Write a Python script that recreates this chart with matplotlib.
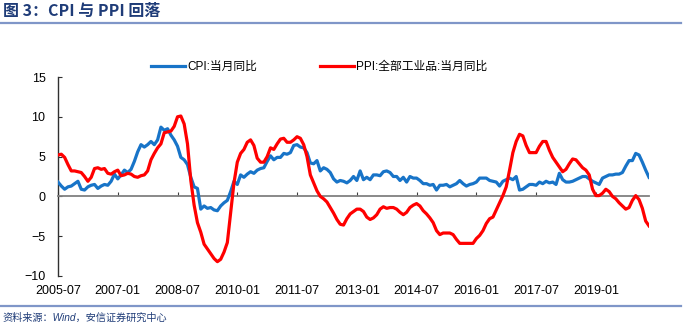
import matplotlib
matplotlib.use("Agg")
import matplotlib.pyplot as plt
import numpy as np

# Monthly data, 2005-07 .. 2020-05 (year-on-year, %)
start_year, start_month = 2005, 7

cpi = [
    1.8, 1.3, 0.9, 1.2, 1.3, 1.6,                                # 2005 H2
    1.9, 0.9, 0.8, 1.2, 1.4, 1.5, 1.0, 1.3, 1.5, 1.4, 1.9, 2.8,  # 2006
    2.2, 2.7, 3.3, 3.0, 3.4, 4.4, 5.6, 6.5, 6.2, 6.5, 6.9, 6.5,  # 2007
    7.1, 8.7, 8.3, 8.5, 7.7, 7.1, 6.3, 4.9, 4.6, 4.0, 2.4, 1.2,  # 2008
    1.0, -1.6, -1.2, -1.5, -1.4, -1.7, -1.8, -1.2, -0.8, -0.5, 0.6, 1.9,  # 2009
    1.5, 2.7, 2.4, 2.8, 3.1, 2.9, 3.3, 3.5, 3.6, 4.4, 5.1, 4.6,  # 2010
    4.9, 4.9, 5.4, 5.3, 5.5, 6.4, 6.5, 6.2, 6.1, 5.5, 4.2, 4.1,  # 2011
    4.5, 3.2, 3.6, 3.4, 3.0, 2.2, 1.8, 2.0, 1.9, 1.7, 2.0, 2.5,  # 2012
    2.0, 3.2, 2.1, 2.4, 2.1, 2.7, 2.7, 2.6, 3.1, 3.2, 3.0, 2.5,  # 2013
    2.5, 2.0, 2.4, 1.8, 2.5, 2.3, 2.3, 2.0, 1.6, 1.6, 1.4, 1.5,  # 2014
    0.8, 1.4, 1.4, 1.5, 1.2, 1.4, 1.6, 2.0, 1.6, 1.3, 1.5, 1.6,  # 2015
    1.8, 2.3, 2.3, 2.3, 2.0, 1.9, 1.8, 1.3, 1.9, 2.1, 2.3, 2.1,  # 2016
    2.5, 0.8, 0.9, 1.2, 1.5, 1.5, 1.4, 1.8, 1.6, 1.9, 1.7, 1.8,  # 2017
    1.5, 2.9, 2.1, 1.8, 1.8, 1.9, 2.1, 2.3, 2.5, 2.5, 2.2, 1.9,  # 2018
    1.7, 1.5, 2.3, 2.5, 2.7, 2.7, 2.8, 2.8, 3.0, 3.8, 4.5, 4.5,  # 2019
    5.4, 5.2, 4.3, 3.3, 2.4,                                     # 2020
]

ppi = [
    5.2, 5.3, 4.9, 4.0, 3.2, 3.2,
    3.1, 3.0, 2.5, 1.9, 2.4, 3.5, 3.6, 3.4, 3.5, 2.9, 2.8, 3.1,
    3.3, 2.6, 2.7, 2.9, 2.8, 2.5, 2.4, 2.6, 2.7, 3.2, 4.6, 5.4,
    6.1, 6.6, 8.0, 8.1, 8.2, 8.8, 10.0, 10.1, 9.1, 6.6, 2.0, -1.1,
    -3.3, -4.5, -6.0, -6.6, -7.2, -7.8, -8.2, -7.9, -7.0, -5.8, -2.1, 1.7,
    4.3, 5.4, 5.9, 6.8, 7.1, 6.4, 4.8, 4.3, 4.3, 5.0, 6.1, 5.9,
    6.6, 7.2, 7.3, 6.8, 6.8, 7.1, 7.5, 7.3, 6.5, 5.0, 2.7, 1.7,
    0.7, 0.0, -0.3, -0.7, -1.4, -2.1, -2.9, -3.5, -3.6, -2.8, -2.2, -1.9,
    -1.6, -1.6, -1.9, -2.6, -2.9, -2.7, -2.3, -1.6, -1.3, -1.5, -1.4, -1.4,
    -1.6, -2.0, -2.3, -2.0, -1.4, -1.1, -0.9, -1.2, -1.8, -2.2, -2.7, -3.3,
    -4.3, -4.8, -4.6, -4.6, -4.6, -4.8, -5.4, -5.9, -5.9, -5.9, -5.9, -5.9,
    -5.3, -4.9, -4.3, -3.4, -2.8, -2.6, -1.7, -0.8, 0.1, 1.2, 3.3, 5.5,
    6.9, 7.8, 7.6, 6.4, 5.5, 5.5, 5.5, 6.3, 6.9, 6.9, 5.8, 4.9,
    4.3, 3.7, 3.1, 3.4, 4.1, 4.7, 4.6, 4.1, 3.6, 3.3, 2.7, 0.9,
    0.1, 0.1, 0.4, 0.9, 0.6, 0.0, -0.3, -0.8, -1.2, -1.6, -1.4, -0.5,
    0.1, -0.4, -1.5, -3.1, -3.7,
]

tick_labels = ["2005-07", "2007-01", "2008-07", "2010-01", "2011-07",
               "2013-01", "2014-07", "2016-01", "2017-07", "2019-01"]
y_ticks = [-10, -5, 0, 5, 10, 15]

BLUE = "#1874c8"
RED = "#ff0000"
NAVY = "#1f3c78"
RULE = "#7f96c8"
latin_cjk = ["Liberation Sans", "Noto Sans CJK SC", "DejaVu Sans"]

plt.rcParams["font.family"] = latin_cjk

months = np.arange(len(cpi))
tick_pos = [tick_labels.index(t) * 18 for t in tick_labels]

fig = plt.figure(figsize=(6.84, 3.27), dpi=100)
ax = fig.add_axes([58 / 684, 1 - 276 / 327, (649 - 58) / 684, (276 - 77) / 327])

ax.plot(months, cpi, color=BLUE, lw=2.3, label="CPI:当月同比", zorder=3)
ax.plot(months, ppi, color=RED, lw=2.3, label="PPI:全部工业品:当月同比", zorder=3)

ax.set_xlim(0, len(cpi) - 1)
ax.set_ylim(-10, 15)
ax.set_yticks(y_ticks)
ax.set_xticks(tick_pos)
ax.set_xticklabels(tick_labels)

for s in ("top", "right"):
    ax.spines[s].set_visible(False)
ax.spines["bottom"].set_position(("data", 0))
ax.spines["bottom"].set_color("#808080")
ax.spines["bottom"].set_linewidth(1.3)
ax.spines["left"].set_color("#303030")
ax.spines["left"].set_linewidth(1.0)

ax.tick_params(axis="y", direction="in", length=3, width=0.8, labelsize=9,
               pad=9, colors="#303030", labelcolor="black")
ax.tick_params(axis="x", direction="in", length=3, width=0.8, labelsize=9,
               pad=64, colors="#404040", labelcolor="black")

ax.legend(loc="center", bbox_to_anchor=(319 / 684, 1 - 67 / 327),
          bbox_transform=fig.transFigure, ncol=2, frameon=False,
          fontsize=8.5, handlelength=2.9, handletextpad=0.15,
          columnspacing=5.3, borderpad=0)

# header and footer
fig.text(3 / 684, 1 - 11 / 327, "图 3：CPI 与 PPI 回落", fontsize=11.5,
         fontweight="bold", color=NAVY, va="center", ha="left",
         family=["Noto Sans CJK SC", "DejaVu Sans"])
fig.add_artist(plt.Line2D([0, 681 / 684], [1 - 22.5 / 327] * 2,
                          color=RULE, lw=1.6, transform=fig.transFigure))
fig.add_artist(plt.Line2D([0, 681 / 684], [1 - 305.5 / 327] * 2,
                          color=RULE, lw=1.6, transform=fig.transFigure))
fig.text(2 / 684, 1 - 318 / 327, "资料来源：Wind，安信证券研究中心", fontsize=7.3,
         style="italic", color=NAVY, va="center", ha="left")

fig.savefig("out.png", dpi=100)
